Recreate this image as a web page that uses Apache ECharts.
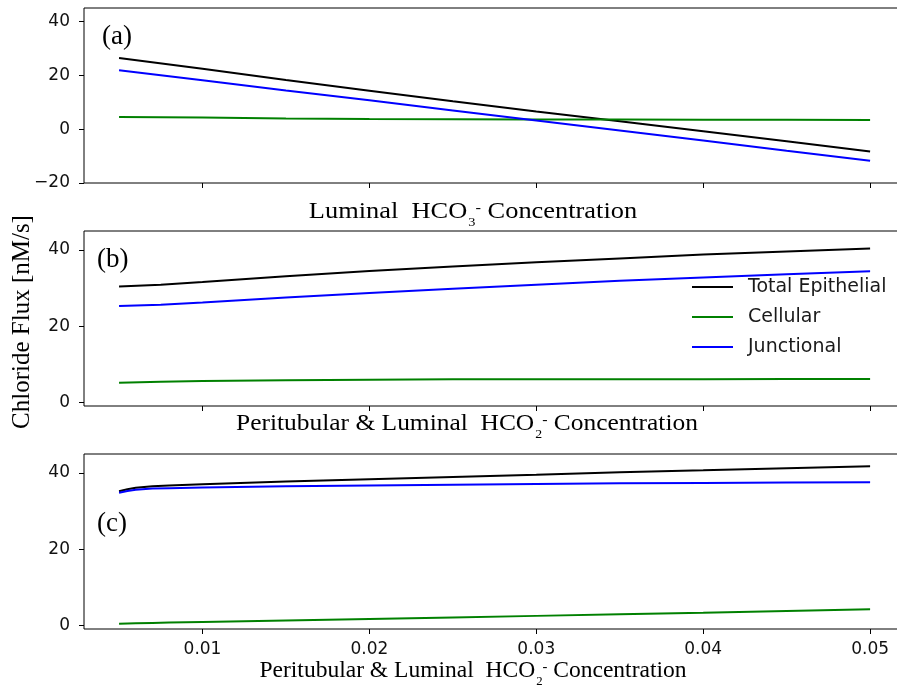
<!DOCTYPE html>
<html><head><meta charset="utf-8">
<script src="https://cdn.jsdelivr.net/npm/echarts@6/dist/echarts.min.js"></script>
<style>html,body{margin:0;padding:0;background:#fff}#c{width:897px;height:695px}</style>
</head><body><div id="c"></div>
<script>
// ---- data ----
const seriesNames = ['Total Epithelial', 'Cellular', 'Junctional'];
// panel (a): Luminal HCO3- concentration
const xA = [0.005, 0.01, 0.015, 0.02, 0.025, 0.03, 0.035, 0.04, 0.045, 0.05];
const totalA = [26.4, 22.4, 18.3, 14.3, 10.4, 6.6, 2.9, -0.8, -4.5, -8.3];
const cellA  = [4.5, 4.3, 4.0, 3.8, 3.7, 3.6, 3.55, 3.5, 3.45, 3.4];
const juncA  = [21.9, 18.2, 14.4, 10.7, 6.95, 3.2, -0.5, -4.2, -8.0, -11.7];
// panel (b): Peritubular & Luminal HCO2- concentration
const xB = [0.005, 0.0075, 0.01, 0.015, 0.02, 0.025, 0.03, 0.035, 0.04, 0.045, 0.05];
const totalB = [30.4, 30.9, 31.6, 33.1, 34.5, 35.7, 36.8, 37.8, 38.8, 39.6, 40.4];
const cellB  = [5.1, 5.4, 5.6, 5.8, 5.9, 6.0, 6.0, 6.05, 6.05, 6.1, 6.1];
const juncB  = [25.3, 25.6, 26.2, 27.5, 28.7, 29.8, 30.9, 31.9, 32.8, 33.6, 34.4];
// panel (c)
const xC = [0.005, 0.0055, 0.006, 0.007, 0.008, 0.01, 0.015, 0.02, 0.025, 0.03, 0.035, 0.04, 0.045, 0.05];
const totalC = [35.2, 35.75, 36.1, 36.5, 36.7, 37.05, 37.75, 38.35, 38.95, 39.55, 40.2, 40.7, 41.25, 41.8];
const cellC  = [0.4, 0.45, 0.5, 0.6, 0.7, 0.85, 1.25, 1.65, 2.05, 2.45, 2.9, 3.3, 3.75, 4.2];
const juncC  = [34.8, 35.3, 35.6, 35.9, 36.0, 36.2, 36.5, 36.7, 36.9, 37.1, 37.3, 37.4, 37.5, 37.6];
// ticks
const xTicks = [0.01, 0.02, 0.03, 0.04, 0.05];
const yTicksA = [-20, 0, 20, 40];
const yTicksBC = [0, 20, 40];
const panelLabels = ['(a)', '(b)', '(c)'];

// ---- chart ----
const colors = ['#000000', '#008000', '#0000ff'];
const gridTops = [8, 231, 454];
const gridH = 175;
const GRID_W = 823;
const X_MIN = 0.0029, X_MAX = 0.0029 + GRID_W / 16690;
const yRanges = [[-20, 45], [-1, 45], [-1, 45]];
const yTickSets = [yTicksA, yTicksBC, yTicksBC];
const tickFont = {fontFamily: 'DejaVu Sans', fontSize: 17, color: '#111'};

const grids = gridTops.map(t => ({left: 84, width: GRID_W, top: t, height: gridH,
  outerBoundsMode: 'none', containLabel: false,
  show: true, borderColor: '#000', borderWidth: 1, backgroundColor: 'transparent'}));

const xAxes = [0, 1, 2].map(i => ({
  type: 'value', gridIndex: i, min: X_MIN, max: X_MAX, position: 'bottom',
  splitLine: {show: false}, axisLine: {show: false, onZero: false},
  axisTick: {show: true, inside: false, length: 5, customValues: xTicks, lineStyle: {color: '#000', width: 1}},
  axisLabel: {show: i === 2, customValues: xTicks, margin: 12, ...tickFont,
    formatter: v => v.toFixed(2)}
}));
const yAxes = [0, 1, 2].map(i => ({
  type: 'value', gridIndex: i, min: yRanges[i][0], max: yRanges[i][1], position: 'left',
  splitLine: {show: false}, axisLine: {show: false, onZero: false},
  axisTick: {show: true, inside: false, length: 5, customValues: yTickSets[i], lineStyle: {color: '#000', width: 1}},
  axisLabel: {show: true, customValues: yTickSets[i], margin: 14, ...tickFont,
    formatter: v => String(v).replace('-', '\u2212')}
}));

const panels = [[xA, [totalA, cellA, juncA]], [xB, [totalB, cellB, juncB]], [xC, [totalC, cellC, juncC]]];
const series = [];
panels.forEach(([xs, ys], i) => {
  ys.forEach((vals, k) => {
    series.push({
      type: 'line', name: seriesNames[k], xAxisIndex: i, yAxisIndex: i,
      data: xs.map((x, j) => [x, vals[j]]),
      showSymbol: false, symbol: 'none', smooth: false, animation: false,
      lineStyle: {color: colors[k], width: 2}, itemStyle: {color: colors[k]}
    });
  });
});

const serif = 'Liberation Serif, Times New Roman, serif';
const rich = {
  m: {fontFamily: serif, fontSize: 24, lineHeight: 28, verticalAlign: 'top', color: '#000'},
  sub: {fontFamily: serif, fontSize: 13, lineHeight: 13, padding: [16, 0, 0, 1], verticalAlign: 'top', color: '#000'},
  sup: {fontFamily: serif, fontSize: 15, lineHeight: 15, padding: [1, 0, 0, 0], verticalAlign: 'top', color: '#000'}
};
function axisTitle(x, y, prefix, subNum, sx) {
  return {type: 'text', x: x, y: y, scaleX: sx, z: 10,
    style: {text: '{m|' + prefix + '}{sub|' + subNum + '}{sup|-}{m| Concentration}', rich: rich,
      align: 'center', verticalAlign: 'middle'}};
}
const graphics = [
  axisTitle(473, 214, 'Luminal  HCO', '3', 1.1),
  axisTitle(467, 426, 'Peritubular & Luminal  HCO', '2', 1.06),
  axisTitle(473, 673, 'Peritubular & Luminal  HCO', '2', 0.98),
  {type: 'text', x: 22, y: 322, rotation: Math.PI / 2, z: 10,
    style: {text: 'Chloride Flux [nM/s]', fontFamily: serif, fontSize: 25, fill: '#000', align: 'center', verticalAlign: 'middle'}},
  {type: 'text', x: 102, y: 37, z: 10, style: {text: panelLabels[0], fontFamily: serif, fontSize: 27, fill: '#000', align: 'left', verticalAlign: 'middle'}},
  {type: 'text', x: 97, y: 260, z: 10, style: {text: panelLabels[1], fontFamily: serif, fontSize: 27, fill: '#000', align: 'left', verticalAlign: 'middle'}},
  {type: 'text', x: 97, y: 524, z: 10, style: {text: panelLabels[2], fontFamily: serif, fontSize: 27, fill: '#000', align: 'left', verticalAlign: 'middle'}}
];

const chart = echarts.init(document.getElementById('c'), null, {renderer: 'canvas'});
chart.setOption({
  animation: false,
  backgroundColor: '#fff',
  grid: grids, xAxis: xAxes, yAxis: yAxes, series: series,
  legend: {data: seriesNames, orient: 'vertical', left: 692, top: 277, padding: 0, icon: 'rect',
    itemWidth: 41, itemHeight: 2, itemGap: 10,
    textStyle: {fontFamily: 'DejaVu Sans', fontSize: 19, lineHeight: 20, color: '#1a1a1a', padding: [0, 0, 0, 10]}},
  graphic: graphics
});
</script></body></html>
